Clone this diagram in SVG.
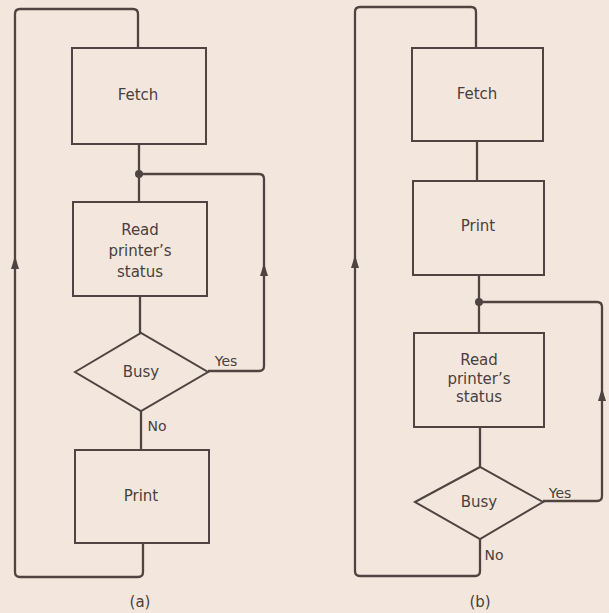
<svg xmlns="http://www.w3.org/2000/svg" width="609" height="613" viewBox="0 0 609 613">
<defs>
<style>
.bx{fill:none;stroke:#4f4441;stroke-width:2}
.ln{fill:none;stroke:#4f4441;stroke-width:2.3;stroke-linejoin:round}
text{font-family:"DejaVu Sans","Liberation Sans",sans-serif;font-size:15px;fill:#4a3f3c;text-anchor:middle}
.sm{font-size:14px}
.ah{fill:#4f4441}
</style>
<path id="up" class="ah" d="M0,-7 L4,6 L-4,6 Z"/>
</defs>
<rect width="609" height="613" fill="#f3e7dd"/>

<g id="connectors">
<!-- (a) -->
<path class="ln" d="M143,543 V572 Q143,577 138,577 H20 Q15,577 15,572 V14 Q15,9 20,9 H133 Q138,9 138,14 V48"/>
<use href="#up" x="15" y="263"/>
<path class="ln" d="M139,144 V202"/>
<circle cx="139" cy="174" r="4" class="ah"/>
<path class="ln" d="M140,296 V333"/>
<path class="ln" d="M208,371 H259 Q264,371 264,366 V179 Q264,174 259,174 H139"/>
<use href="#up" x="264" y="270"/>
<path class="ln" d="M141,411 V450"/>
<!-- (b) -->
<path class="ln" d="M480,539 V571 Q480,576 475,576 H360 Q355,576 355,571 V12 Q355,7 360,7 H471 Q476,7 476,12 V48"/>
<use href="#up" x="355" y="262"/>
<path class="ln" d="M477,141 V181"/>
<path class="ln" d="M479,275 V333"/>
<circle cx="479" cy="302" r="4" class="ah"/>
<path class="ln" d="M479,302 H597 Q602,302 602,307 V496 Q602,501 597,501 H543"/>
<use href="#up" x="602" y="395"/>
<path class="ln" d="M480,427 V467"/>
</g>

<g id="a-fetch"><rect class="bx" x="72" y="48" width="134" height="96"/><text x="138" y="100">Fetch</text></g>
<g id="a-read"><rect class="bx" x="73" y="202" width="134" height="94"/>
<text x="140" y="235">Read</text><text x="140" y="256">printer’s</text><text x="140" y="277">status</text></g>
<g id="a-busy"><polygon class="bx" points="75,372 141,333 208,372 141,411"/><text x="141" y="377">Busy</text></g>
<g id="a-print"><rect class="bx" x="75" y="450" width="134" height="93"/><text x="141" y="501">Print</text></g>
<text class="sm" x="226" y="366">Yes</text>
<text class="sm" x="157" y="431">No</text>
<text x="140" y="607">(a)</text>

<g id="b-fetch"><rect class="bx" x="412" y="48" width="131" height="93"/><text x="477" y="99">Fetch</text></g>
<g id="b-print"><rect class="bx" x="413" y="181" width="131" height="94"/><text x="478" y="231">Print</text></g>
<g id="b-read"><rect class="bx" x="414" y="333" width="130" height="94"/>
<text x="479" y="365">Read</text><text x="479" y="384">printer’s</text><text x="479" y="402">status</text></g>
<g id="b-busy"><polygon class="bx" points="415,502 480,467 543,502 480,539"/><text x="479" y="507">Busy</text></g>
<text class="sm" x="560" y="498">Yes</text>
<text class="sm" x="494" y="560">No</text>
<text x="480" y="607">(b)</text>
</svg>
